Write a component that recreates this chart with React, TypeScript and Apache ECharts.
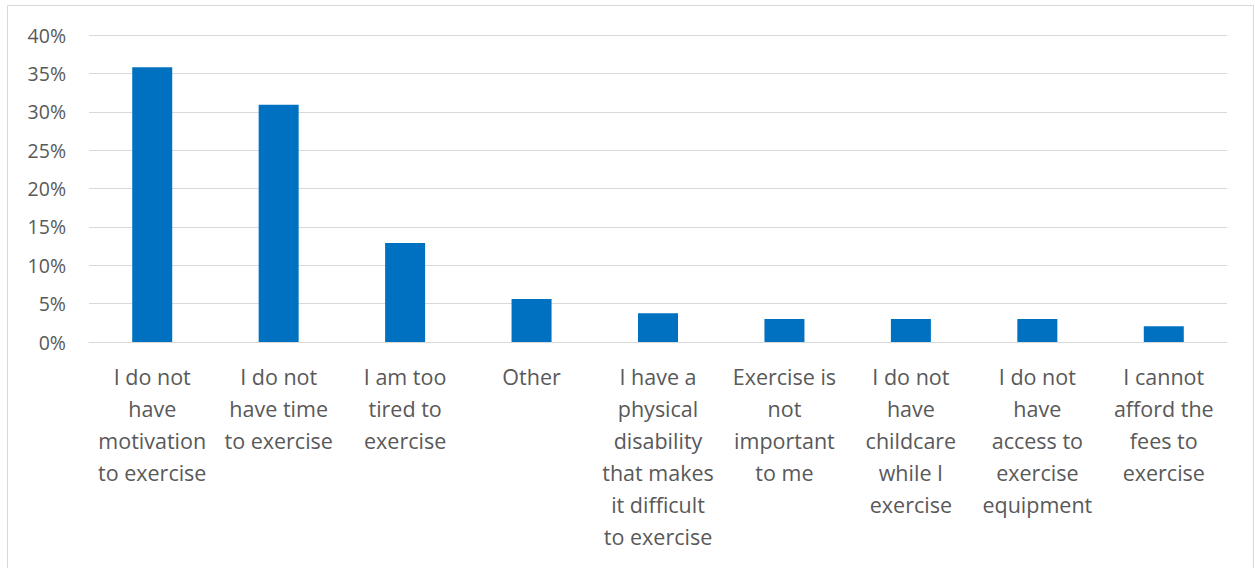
import React, { useEffect, useRef } from "react";
import * as echarts from "echarts";

const categories = [
  "I do not\nhave\nmotivation\nto exercise",
  "I do not\nhave time\nto exercise",
  "I am too\ntired to\nexercise",
  "Other",
  "I have a\nphysical\ndisability\nthat makes\nit difficult\nto exercise",
  "Exercise is\nnot\nimportant\nto me",
  "I do not\nhave\nchildcare\nwhile I\nexercise",
  "I do not\nhave\naccess to\nexercise\nequipment",
  "I cannot\nafford the\nfees to\nexercise",
];
const values = [35.8, 30.9, 12.9, 5.6, 3.75, 3.0, 3.0, 3.0, 2.05];
const yTicks = { min: 0, max: 40, interval: 5 };

export default function App() {
  const ref = useRef<HTMLDivElement>(null);
  useEffect(() => {
    if (!ref.current) return;
    const chart = echarts.init(ref.current, null, { renderer: "svg" });
    const font = "Open Sans, Liberation Sans, sans-serif";
    chart.setOption({
      animation: false,
      backgroundColor: "#ffffff",
      graphic: [
        {
          type: "rect",
          shape: { x: 7.5, y: 5.5, width: 1246, height: 600 },
          style: { fill: "none", stroke: "#d9d9d9", lineWidth: 1 },
          silent: true,
        },
      ],
      grid: { left: 89, right: 28, top: 35, bottom: 226, containLabel: false },
      xAxis: {
        type: "category",
        data: categories,
        axisLine: { show: true, lineStyle: { color: "#d9d9d9", width: 1 } },
        axisTick: { show: false },
        axisLabel: {
          interval: 0,
          color: "#595959",
          fontSize: 21.5,
          fontFamily: font,
          lineHeight: 32,
          margin: 18,
          align: "center",
        },
      },
      yAxis: {
        type: "value",
        min: yTicks.min,
        max: yTicks.max,
        interval: yTicks.interval,
        axisLine: { show: false },
        axisTick: { show: false },
        splitLine: { lineStyle: { color: "#d9d9d9", width: 1 } },
        axisLabel: {
          formatter: "{value}%",
          color: "#595959",
          fontSize: 19.5,
          fontFamily: font,
          margin: 23,
        },
      },
      series: [
        {
          type: "bar",
          data: values,
          barWidth: 40,
          itemStyle: { color: "#0070c0" },
        },
      ],
    });
    return () => chart.dispose();
  }, []);
  return (
    <div
      ref={ref}
      style={{ position: "absolute", left: 0, top: 0, width: 1255, height: 568 }}
    />
  );
}
